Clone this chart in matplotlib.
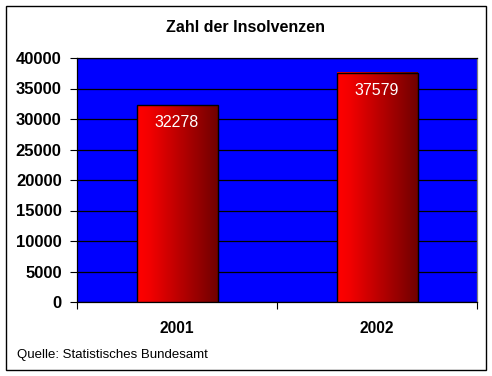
import numpy as np
import matplotlib
matplotlib.use("Agg")
import matplotlib.pyplot as plt
from matplotlib.colors import LinearSegmentedColormap
from matplotlib.patches import Rectangle

# Daten
years = ["2001", "2002"]
insolvenzen = [32278, 37579]
yticks = [0, 5000, 10000, 15000, 20000, 25000, 30000, 35000, 40000]

plt.rcParams['font.family'] = ['Liberation Sans', 'DejaVu Sans']

fig = plt.figure(figsize=(4.92, 3.76), dpi=100)
fig.patch.set_facecolor('white')
ax = fig.add_axes([77 / 492, 74 / 376, 400 / 492, 244 / 376])
ax.set_facecolor('#0000ff')

x = np.arange(len(years))
bars = ax.bar(x, insolvenzen, width=0.405, facecolor='none', edgecolor='black',
              linewidth=1.0, zorder=4)

# Farbverlauf rot -> dunkelrot
cmap = LinearSegmentedColormap.from_list('rot', [(0, '#ff0000'), (0.15, '#f40000'), (1, '#700000')])
grad = np.linspace(0, 1, 256).reshape(1, -1)
for b in bars:
    x0, y0 = b.get_x(), b.get_y()
    ax.imshow(grad, cmap=cmap, aspect='auto', zorder=3,
              extent=[x0, x0 + b.get_width(), y0, y0 + b.get_height()])

for xi, v in zip(x, insolvenzen):
    ax.text(xi, v - 2900, str(v), ha='center', va='center', color='white',
            fontsize=11.5, zorder=5)

ax.set_xlim(-0.5, len(years) - 0.5)
ax.set_ylim(0, 40000)
ax.set_yticks(yticks)
ax.set_yticklabels([str(t) for t in yticks], fontsize=12, fontweight='bold')
ax.tick_params(axis='y', length=5, width=0.8, pad=6, direction='out')

ax.set_xticks([-0.5, 0.5, 1.5])
ax.set_xticklabels([])
ax.set_xticks(x, minor=True)
ax.set_xticklabels(years, minor=True, fontsize=11.2, fontweight='bold')
ax.tick_params(axis='x', which='major', length=5, width=0.8, direction='out')
ax.tick_params(axis='x', which='minor', length=0, pad=14)

ax.yaxis.grid(True, color='black', linewidth=0.9)
ax.set_axisbelow(True)
for s in ['left', 'bottom', 'top']:
    ax.spines[s].set_color('black')
    ax.spines[s].set_linewidth(0.9)
ax.spines['right'].set_color('#808080')
ax.spines['right'].set_linewidth(0.9)

fig.text(245 / 492, 1 - 27 / 376, "Zahl der Insolvenzen", ha='center', va='center',
         fontsize=11.5, fontweight='bold')
fig.text(17 / 492, 1 - 355 / 376, "Quelle: Statistisches Bundesamt", ha='left',
         va='center', fontsize=9.5)

fig.patches.append(Rectangle((5.5 / 492, 1 - 369.5 / 376), 480 / 492, 364 / 376,
                             transform=fig.transFigure, fill=False,
                             edgecolor='black', linewidth=1.0))

fig.savefig('out.png', dpi=100)
